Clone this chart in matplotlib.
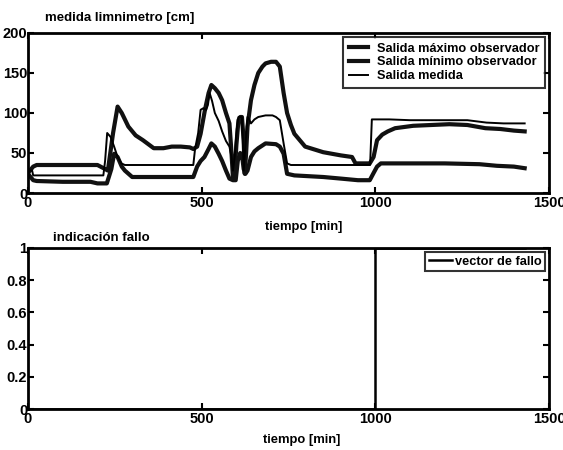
import numpy as np
import matplotlib
matplotlib.use("Agg")
import matplotlib.pyplot as plt

# upper panel: limnimeter reading and observer bounds [cm] vs time [min]
t_max = [0, 15, 25, 100, 200, 222, 230, 245, 258, 270, 289, 310, 331, 362, 390, 414, 440, 466,
         476, 487, 497, 510, 520, 528, 538, 549, 559, 570, 580, 586, 590, 594, 600, 606, 611, 616,
         621, 624, 628, 632, 642, 652, 663, 675, 684, 700, 714, 725, 736, 746, 757, 767, 798, 850,
         901, 933, 943, 984, 995, 1005, 1020, 1036, 1057, 1109, 1161, 1213, 1265, 1317, 1360, 1399, 1430]
y_max = [25, 33, 35, 35, 35, 30, 28, 75, 108, 100, 83, 72, 66, 56, 56, 58, 58, 57,
         55, 58, 74, 105, 125, 135, 131, 125, 116, 100, 87, 50, 20, 17, 60, 91, 95, 95,
         66, 24, 50, 83, 116, 135, 150, 158, 162, 164, 164, 158, 125, 100, 85, 74, 58, 51,
         47, 45, 37, 37, 45, 66, 73, 77, 81, 84, 85, 86, 85, 81, 80, 78, 77]

t_min = [0, 15, 25, 100, 180, 200, 227, 240, 248, 258, 270, 279, 300, 331, 400, 476, 487, 497,
         508, 520, 528, 538, 549, 559, 570, 580, 590, 598, 604, 611, 616, 621, 626, 632, 642, 652,
         663, 684, 714, 725, 736, 746, 767, 850, 901, 950, 984, 995, 1005, 1016, 1100, 1200, 1300,
         1350, 1399, 1430]
y_min = [24, 16, 15, 14, 14, 12, 12, 30, 49, 45, 33, 28, 20, 20, 20, 20, 33, 40,
         45, 55, 62, 58, 49, 40, 28, 18, 16, 16, 40, 50, 48, 30, 24, 28, 45, 52,
         56, 62, 61, 58, 49, 24, 22, 20, 18, 16, 16, 25, 33, 37, 37, 37, 36,
         34, 33, 31]

t_med = [0, 12, 15, 100, 217, 222, 228, 238, 248, 258, 269, 279, 476, 481, 490, 497, 505, 513,
         518, 523, 530, 538, 549, 559, 570, 580, 586, 590, 595, 601, 606, 616, 619, 621, 626, 632,
         637, 642, 652, 663, 684, 704, 714, 725, 736, 746, 757, 985, 990, 1020, 1040, 1100, 1200,
         1265, 1320, 1369, 1430]
y_med = [28, 28, 22, 22, 22, 40, 75, 70, 58, 45, 37, 35, 35, 55, 75, 104, 106, 104,
         110, 125, 115, 100, 90, 77, 65, 58, 45, 28, 45, 80, 95, 95, 60, 28, 60, 95,
         92, 87, 92, 95, 97, 97, 95, 91, 62, 37, 35, 35, 92, 92, 92, 91, 91,
         91, 88, 87, 87]

# lower panel: fault indicator
t_fallo = [0, 1000, 1000, 1430]
y_fallo = [0, 0, 1, 1]

plt.rcParams["font.family"] = ["Liberation Sans", "DejaVu Sans"]
plt.rcParams["font.weight"] = "bold"

fig = plt.figure(figsize=(5.63, 4.5), dpi=100)
ax1 = fig.add_axes([0.0497, 0.5711, 0.9254, 0.3556])
ax2 = fig.add_axes([0.0497, 0.0911, 0.9254, 0.3578])

ax1.plot(t_max, y_max, color="#111111", lw=3.0, label="Salida máximo observador")
ax1.plot(t_min, y_min, color="#111111", lw=3.0, label="Salida mínimo observador")
ax1.plot(t_med, y_med, color="black", lw=1.4, label="Salida medida")
ax1.set_ylim(0, 200)
ax1.set_yticks([0, 50, 100, 150, 200])

ax2.plot(t_fallo, y_fallo, color="black", lw=1.8, label="vector de fallo")
ax2.set_ylim(0, 1)
ax2.set_yticks([0, 0.2, 0.4, 0.6, 0.8, 1])
ax2.set_yticklabels(["0", "0.2", "0.4", "0.6", "0.8", "1"])

for ax in (ax1, ax2):
    ax.set_xlim(0, 1500)
    ax.set_xticks([0, 500, 1000, 1500])
    ax.tick_params(direction="in", length=4, width=1.5, top=True, right=True,
                   labelsize=10.5, pad=2)
    ax.tick_params(axis="y", pad=0.5)
    for s in ax.spines.values():
        s.set_linewidth(2)
    for lab in ax.get_xticklabels() + ax.get_yticklabels():
        lab.set_fontweight("bold")

# axis labels and panel titles, placed where the original has them
fig.text(304 / 563, 1 - 227 / 450, "tiempo [min]", fontsize=9.4, fontweight="bold",
         ha="center", va="center")
fig.text(302 / 563, 1 - 440 / 450, "tiempo [min]", fontsize=9.4, fontweight="bold",
         ha="center", va="center")
fig.text(45 / 563, 1 - 18 / 450, "medida limnimetro [cm]", fontsize=9.5, fontweight="bold",
         va="center")
fig.text(53 / 563, 1 - 238 / 450, "indicación fallo", fontsize=9.5, fontweight="bold",
         va="center")

leg1 = ax1.legend(loc="upper right", fontsize=9.2, frameon=True, fancybox=False,
                  borderpad=0.45, labelspacing=0.15, handlelength=1.5, handletextpad=0.7,
                  borderaxespad=0.3, edgecolor="black")
leg1.get_frame().set_linewidth(1.5)
leg2 = ax2.legend(loc="upper right", fontsize=9.2, frameon=True, fancybox=False,
                  borderpad=0.3, handlelength=1.8, handletextpad=0.2,
                  borderaxespad=0.3, edgecolor="black")
leg2.get_frame().set_linewidth(1.5)
for leg in (leg1, leg2):
    for txt in leg.get_texts():
        txt.set_fontweight("bold")

fig.savefig("out.png", dpi=100)
